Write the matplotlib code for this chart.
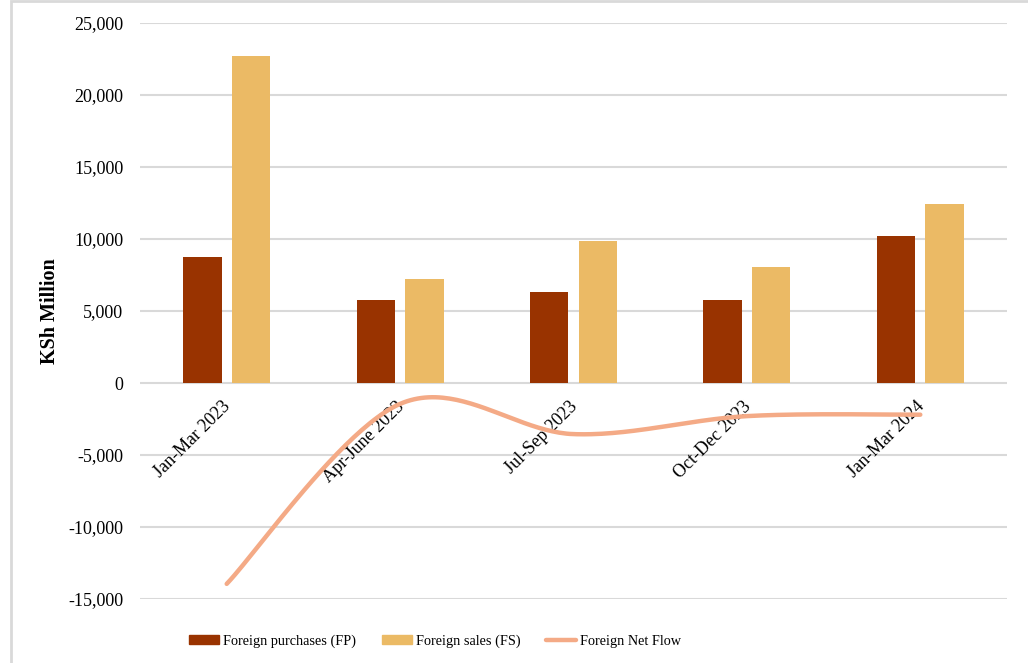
import numpy as np
import matplotlib.pyplot as plt
from matplotlib.patches import Rectangle, Patch
from matplotlib.lines import Line2D

plt.rcParams['font.family'] = ['Liberation Serif', 'DejaVu Serif']

quarters = ['Jan-Mar 2023', 'Apr-June 2023', 'Jul-Sep 2023', 'Oct-Dec 2023', 'Jan-Mar 2024']
purchases = [8750, 5750, 6300, 5750, 10200]
sales = [22700, 7200, 9850, 8050, 12400]
net_flow = [-13950, -1450, -3550, -2300, -2200]

c_fp = '#993300'
c_fs = '#EBBA65'
c_net = '#F4AA86'
c_grid = '#D9D9D9'


def smooth(xs, ys, n=50):
    # excel style smoothed line (catmull-rom as bezier)
    pts = np.column_stack([xs, ys]).astype(float)
    out = []
    for i in range(len(pts) - 1):
        p0 = pts[max(i - 1, 0)]
        p1 = pts[i]
        p2 = pts[i + 1]
        p3 = pts[min(i + 2, len(pts) - 1)]
        c1 = p1 + (p2 - p0) / 6
        c2 = p2 - (p3 - p1) / 6
        t = np.linspace(0, 1, n)[:, None]
        seg = (1 - t)**3 * p1 + 3 * (1 - t)**2 * t * c1 + 3 * (1 - t) * t**2 * c2 + t**3 * p2
        out.append(seg if i == 0 else seg[1:])
    return np.vstack(out)


fig = plt.figure(figsize=(10.28, 6.63), dpi=100)
ax = fig.add_axes([140 / 1028, 1 - 599 / 663, 867 / 1028, 576 / 663])

x = np.arange(len(quarters))
w = 0.222
ax.bar(x - 0.14, purchases, width=w, color=c_fp, zorder=2)
ax.bar(x + 0.14, sales, width=w, color=c_fs, zorder=2)

curve = smooth(x, net_flow)
ax.plot(curve[:, 0], curve[:, 1], color=c_net, lw=3.2, solid_capstyle='round', zorder=4)

ax.set_xlim(-0.5, len(quarters) - 0.5)
ax.set_ylim(-15000, 25000)
ax.set_yticks(np.arange(-15000, 25001, 5000))
ax.set_yticklabels([f'{v:,}' for v in range(-15000, 25001, 5000)], fontsize=13)
ax.yaxis.grid(True, color=c_grid, lw=1.5, zorder=0)
ax.set_axisbelow(True)
ax.set_xticks([])
ax.tick_params(axis='y', length=0, pad=12)
for s in ax.spines.values():
    s.set_visible(False)

for i, q in enumerate(quarters):
    ax.annotate(q, xy=(i, 0), xytext=(-3.5, -11), textcoords='offset points',
                rotation=45, ha='right', va='top', rotation_mode='anchor',
                fontsize=13, zorder=3)

ax.set_ylabel('KSh Million', fontsize=14.5, fontweight='bold', labelpad=6)

handles = [Patch(color=c_fp), Patch(color=c_fs),
           Line2D([], [], color=c_net, lw=3.2, solid_capstyle='round')]
fig.legend(handles, ['Foreign purchases (FP)', 'Foreign sales (FS)', 'Foreign Net Flow'],
           loc='center', bbox_to_anchor=(435 / 1028, 1 - 641 / 663), ncol=3,
           frameon=False, fontsize=10.3, handlelength=2.1, handleheight=0.65,
           handletextpad=0.28, columnspacing=1.8)

fig.add_artist(Rectangle((11 / 1028, -0.05), 1.2, 1.05 - 1.5 / 663,
                         transform=fig.transFigure, fill=False, ec=c_grid, lw=2))

fig.savefig('out.png', dpi=100)
